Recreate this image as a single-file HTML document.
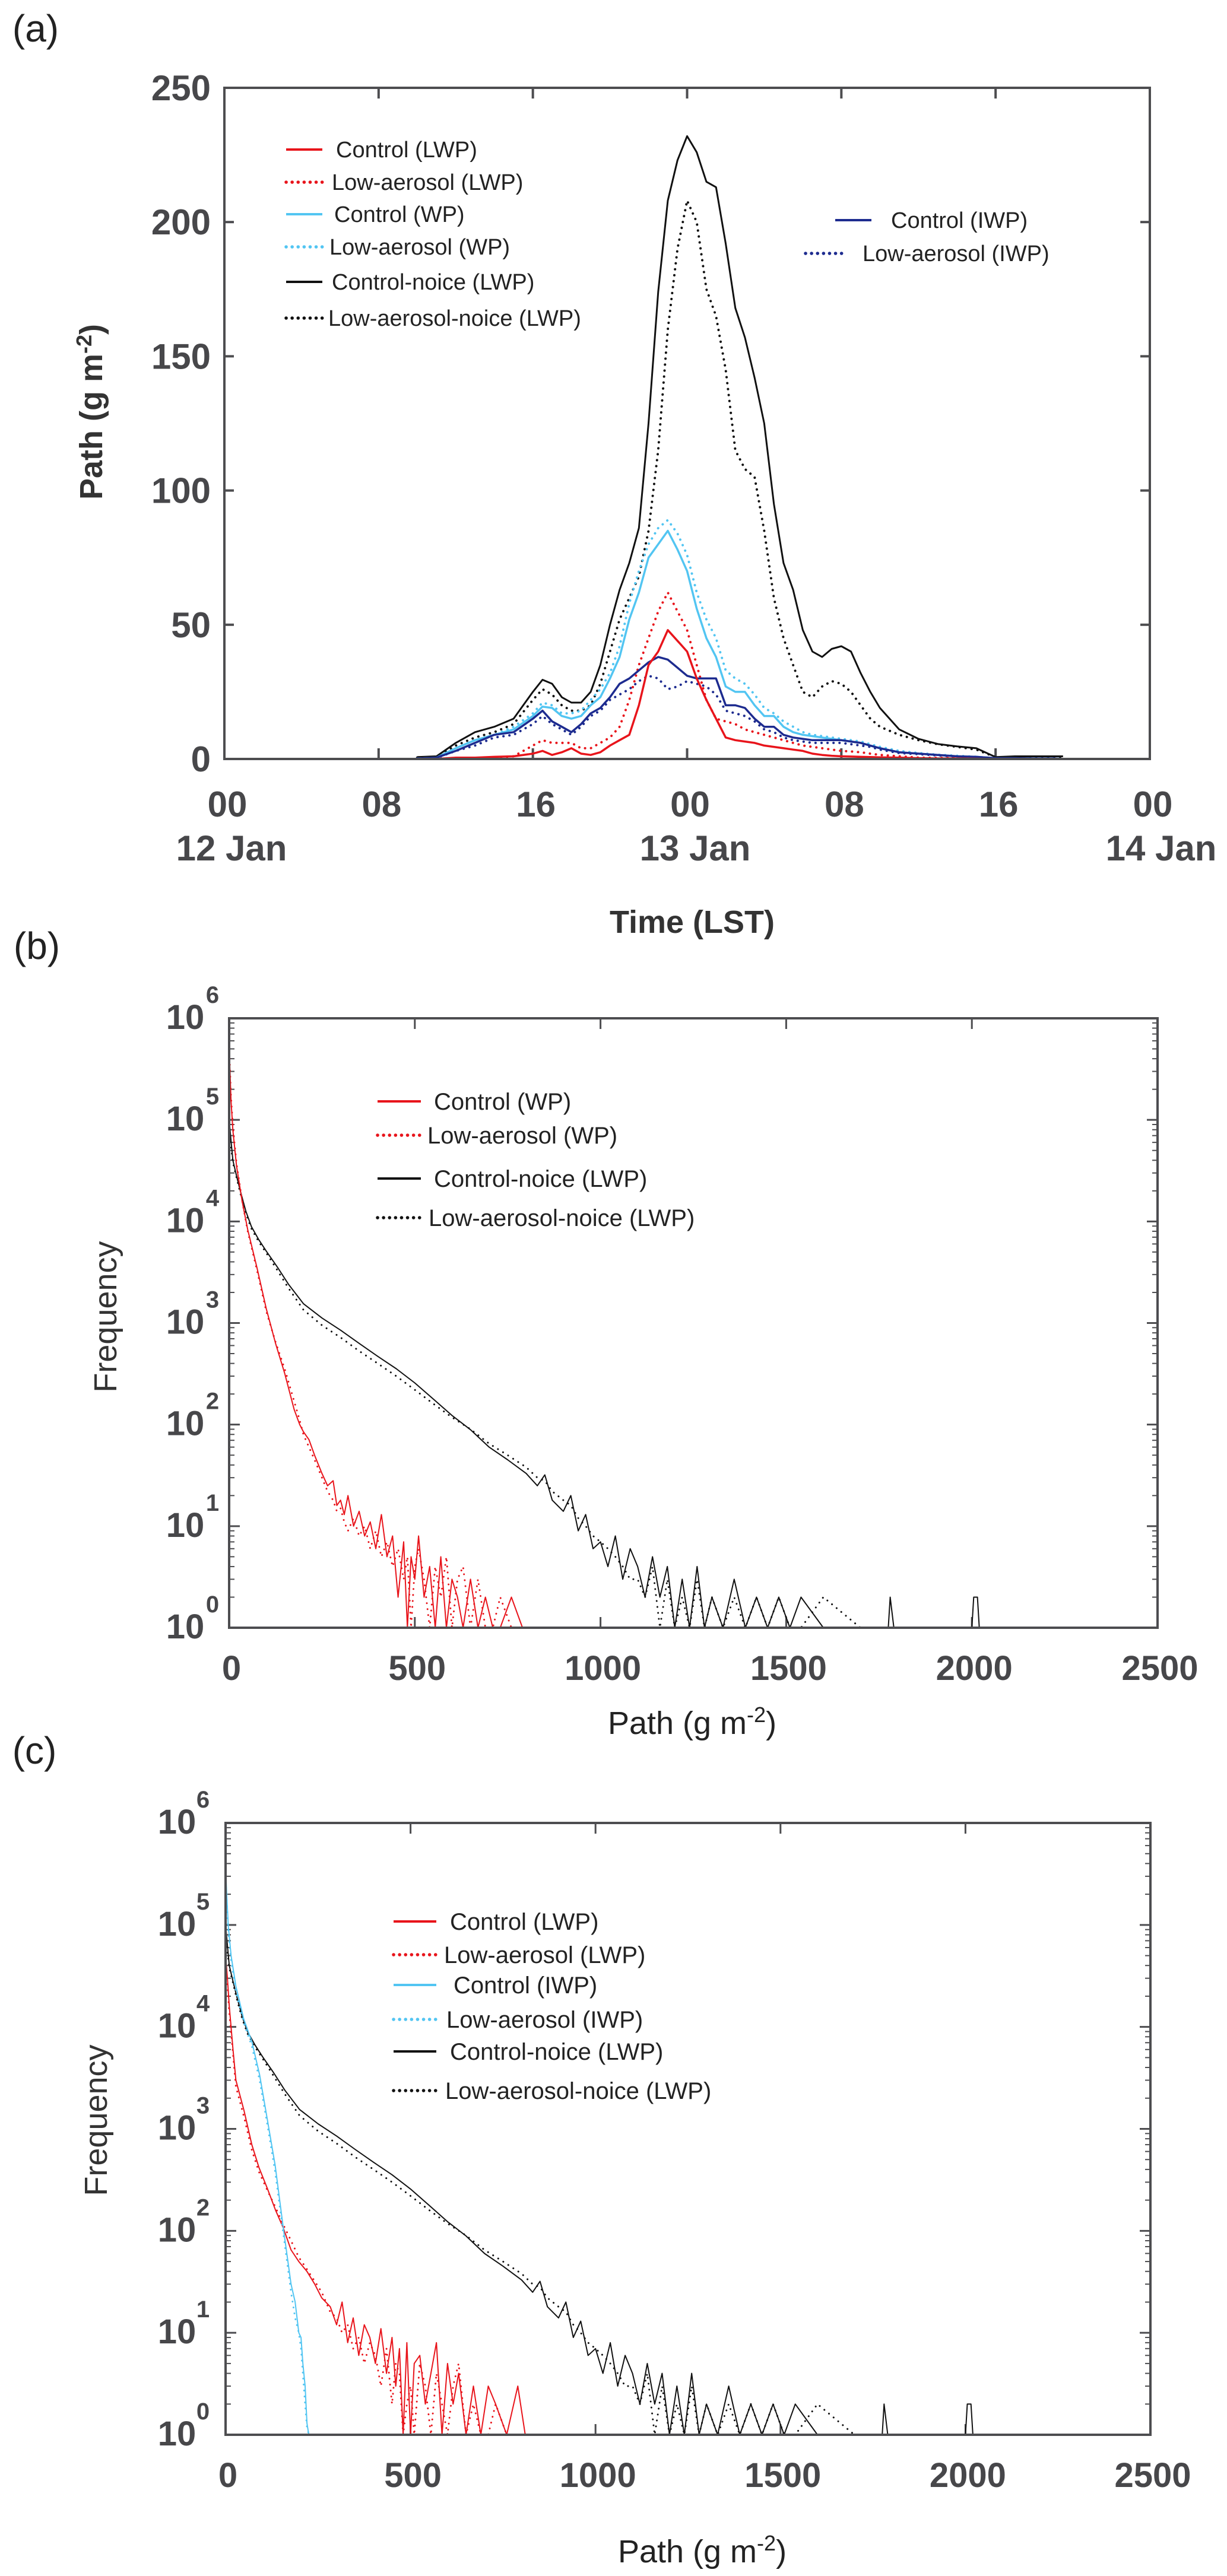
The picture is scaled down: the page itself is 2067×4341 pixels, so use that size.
<!DOCTYPE html>
<html><head><meta charset="utf-8"><style>
html,body{margin:0;padding:0;background:#fff}
svg{display:block}
text{font-family:"Liberation Sans",sans-serif}
</style></head><body>
<svg id="fig" xmlns="http://www.w3.org/2000/svg" width="2067" height="4341" viewBox="0 0 2067 4341">
<rect width="2067" height="4341" fill="#fff"/>
<text x="60" y="70" font-size="64" text-anchor="middle" fill="#222">(a)</text>
<text x="62" y="1616" font-size="64" text-anchor="middle" fill="#222">(b)</text>
<text x="58" y="2972" font-size="64" text-anchor="middle" fill="#222">(c)</text>
<g id="pa"></g>
<g id="pb"></g>
<g id="pc"></g>
</svg>
<script>
// ---------- Panel (a) data ----------
const aTimes=[10,11,12,13,14,15,16,16.5,17,17.5,18,18.5,19,19.5,20,20.5,21,21.5,22,22.5,23,23.5,24,24.5,25,25.5,26,26.5,27,27.5,28,28.5,29,29.5,30,30.5,31,31.5,32,32.5,33,33.5,34,35,36,37,38,39,40,41,42,43,43.5];
const aCtrlNoice=[0.7,1,6,10,12,15,25,29.5,28,23,21,21,25,35,50,63,73,86,125,174,208,223,232,226,215,213,192,168,157,142,125,95,73,63,48,40,38,41,42,40,32,25,19,11,7.5,5.6,4.7,4,0.7,1,1,1,1];
const aLowNoice=[0.5,0.8,5,8,10,13,22,26,24,20,18,18,20,28,40,52,60,68,85,115,160,190,208,200,175,165,145,115,108,105,85,60,45,35,25,23,27,29,28,25,20,15,12,9,7,5.5,4.5,3.5,0.7,0.5,0.5,0.5,0.5];
const aCtrlWP=[0.2,0.5,4,7,9,11,16,19.5,19,16,15,16,20,23,30,38,52,62,75,80,85,78,70,56,45,38,27,25,25,20,16,16,12,10,9,8.5,8,7.5,7,6.5,6,5,4,2.5,2,1.5,1,0.8,0.3,0.3,0.2,0.2,0];
const aLowWP=[0.2,0.5,4,7,9,12,17,21,20,17,17,18,22,26,32,42,58,70,80,86,89,84,76,62,52,45,33,30,28,24,19,17,14,12,10,9,8.5,8,7.5,7,6.5,5.5,4.5,3,2.2,1.6,1.2,0.8,0.3,0.3,0.2,0.2,0];
const aCtrlIWP=[0.2,0.5,3,6,9,10,15,18,14,12,10,13,17,19,23,28,30,33,36,38,37,34,31,30,30,30,20,20,19,15,12,12,9,8,7.5,7,7,7,7,6.5,6,5,4,2.5,2,1.5,1,0.8,0.3,0.3,0.2,0.2,0];
const aLowIWP=[0.2,0.4,3,5,8,9,13,16,13,11,9,12,16,18,22,24,26,29,31,30,26,27,29,28,27,24,18,17,16,14,11,10,8,7,6.5,6,6,6,6,5.5,5,4.5,3.5,2.2,1.8,1.3,0.9,0.7,0.3,0.3,0.2,0.2,0];
const aCtrlLWP=[0,0,0.5,0.5,0.8,1,2,3,1.5,2.5,4,2,1.5,2.5,5,7,9,20,35,40,48,44,40,30,22,15,8,7,6.5,6,5,4.5,4,3.5,3,2,1.5,1.2,1,0.9,0.8,0.7,0.6,0.5,0.3,0.2,0.2,0.1,0,0,0,0,0];
const aLowLWP=[0,0,0.3,0.4,0.5,1,5,7,6,6,6,4,4,6,8,12,22,35,45,55,62,55,48,35,22,15,14,13,11,10,9,8,7,6,5,4.5,4,3.5,3,2.8,2.5,2,1.5,1,0.5,0.4,0.3,0.2,0.1,0,0,0,0];
const aYTicks=[0,50,100,150,200,250];
const aXTickHours=[0,8,16,24,32,40,48];
const aXTickLabels=["00","08","16","00","08","16","00"];

// ---------- Panel (b) data ----------
const bRedX=[0,5,10,20,35,50,75,100,125,150,175,190,200,215,230,250,265,280,290,300,310,320,335,350,365,380,395,410,425,440,455,470,480,490,500,510,525,540,555,570,585,600,615,630,650,670,690,710,730,760,790,810];
const bCtrlWP=[525000,158000,79000,35000,15800,8300,3500,1380,630,316,141,100,85,71,50,33,25,28,16,18,13,20,10,14,8,11,6,13,5,8,2,7,1,5,3,8,2,4,1,5,1,3,2,1,3,1,2,1,1,2,1,1];
const bLowWP=[525000,170000,85000,37000,16000,8000,3300,1300,650,350,170,110,80,60,45,30,22,18,14,15,11,9,12,8,10,6,9,5,7,4,6,3,5,1,4,6,3,1,4,2,5,1,3,4,1,3,1,1,2,1,1,1];
const bBlackX=[0,5,10,20,30,45,60,80,100,130,160,200,250,300,350,400,450,500,550,600,650,700,750,800,830,850,870,900,920,940,960,980,1000,1020,1040,1060,1080,1100,1120,1140,1160,1180,1200,1220,1240,1260,1280,1300,1330,1360,1390,1420,1450,1480,1510,1540,1600,1700,1775,1780,1790,2000,2005,2015,2020,2500];
const bCtrlNoice=[100000,63000,40000,28000,20000,12600,8900,6600,5100,3550,2400,1550,1120,850,630,470,355,257,178,123,89,60,45,33,25,32,18,14,20,9,13,6,7,4,8,3,6,4,2,5,2,4,1,3,1,4,1,2,1,3,1,2,1,2,1,2,1,1,1,2,1,1,2,2,1,1];
const bLowNoice=[80000,55000,38000,27000,19000,12000,8500,6300,4900,3300,2200,1350,950,720,530,400,300,220,160,118,90,65,50,38,30,28,22,18,16,12,10,8,7,6,5,4,3,3,2,4,1,3,1,2,1,3,1,2,1,2,1,2,1,2,1,1,2,1,1,1,1,1,1,1,1,1];
const logExps=[0,1,2,3,4,5,6];
const pathTicks=[0,500,1000,1500,2000,2500];

// ---------- Panel (c) data ----------
const cRedX=[0,5,10,20,28,50,71,90,113,135,156,177,198,220,241,260,283,300,315,330,345,360,375,390,405,420,435,450,460,470,480,490,500,510,525,540,555,570,585,600,615,630,650,670,690,710,730,760,790,810];
const cCtrlLWP=[50000,30000,16000,6000,3000,1500,700,420,260,160,107,65,50,40,30,22,18,12,20,8,14,6,12,9,5,11,4,9,3,7,1,8,1,5,6,2,4,8,1,5,2,4,1,3,1,3,2,1,3,1];
const cLowLWP=[45000,26000,14000,5500,2600,1300,620,380,250,170,115,80,55,42,32,25,16,14,10,12,7,9,5,8,6,3,7,2,5,4,1,2,3,1,5,3,1,4,2,1,3,5,1,2,1,1,2,1,1,1];
const cCyanX=[0,3,7,15,28,49,71,92,113,134,156,177,188,198,204,209,215,220,225];
const cCtrlIWP=[370000,200000,100000,50000,25000,12000,7200,3400,1230,440,107,30,20,10,9,5,3,1.3,1];
const cLowIWP=[300000,180000,90000,45000,22000,11000,6500,3000,1100,380,95,25,14,10,7,4,2,1.2,1];
const cBlackX=bBlackX.slice();
const cCtrlNoice=bCtrlNoice.slice();
const cLowNoice=bLowNoice.slice();

const NS="http://www.w3.org/2000/svg";
const RED="#e8141b", CYAN="#52c5f2", NAVY="#1d2b8f", BLK="#111111", AX="#4d4d50", LAB="#47474a";
function mk(tag,parent){const e=document.createElementNS(NS,tag);parent.appendChild(e);return e;}
function series(parent,xs,ys,fx,fy,color,dotted,w,name){
  const p=mk('path',parent);
  
  
  let d='';
  for(let i=0;i<xs.length&&i<ys.length;i++){d+=(i?'L':'M')+fx(xs[i]).toFixed(1)+' '+fy(ys[i]).toFixed(1);}
  p.setAttribute('d',d);p.setAttribute('fill','none');p.setAttribute('stroke',color);
  p.setAttribute('stroke-width',w);p.setAttribute('stroke-linejoin','round');
  if(dotted){p.setAttribute('stroke-dasharray','0.1 10');p.setAttribute('stroke-linecap','round');p.setAttribute('stroke-width',w+1.5);}
}
function txt(parent,x,y,s,size,opts,name){
  const t=mk('text',parent);
  
  
  t.setAttribute('x',x);t.setAttribute('y',y);t.setAttribute('font-size',size);
  t.setAttribute('fill',(opts&&opts.fill)||LAB);
  if(opts&&opts.bold)t.setAttribute('font-weight','bold');
  t.setAttribute('text-anchor',(opts&&opts.anchor)||'middle');
  if(opts&&opts.rot)t.setAttribute('transform','rotate(-90 '+x+' '+y+')');
  t.textContent=s;return t;
}
function ln(parent,x1,y1,x2,y2,color,w,name){
  const l=mk('line',parent);
  
  
  l.setAttribute('x1',x1);l.setAttribute('y1',y1);l.setAttribute('x2',x2);l.setAttribute('y2',y2);
  l.setAttribute('stroke',color);l.setAttribute('stroke-width',w);
  if(name.indexOf('dotted')>=0){l.setAttribute('stroke-dasharray','0.1 10');l.setAttribute('stroke-linecap','round');l.setAttribute('stroke-width',w+1.5);}
}
function box(parent,L,T,R,B,name){
  const r=mk('rect',parent);
  
  
  r.setAttribute('x',L);r.setAttribute('y',T);r.setAttribute('width',R-L);r.setAttribute('height',B-T);
  r.setAttribute('fill','none');r.setAttribute('stroke',AX);r.setAttribute('stroke-width',4);
}

// ---------- Panel (a) ----------
(function(){
  const g=document.getElementById('pa');
  const L=378,R=1937,T=148,B=1279;
  const fx=h=>L+(h/48)*(R-L), fy=v=>B-(v/250)*(B-T);
  aYTicks.forEach(v=>{ln(g,L,fy(v),L+16,fy(v),AX,4,'y-tick');ln(g,R-16,fy(v),R,fy(v),AX,4,'y-tick-right');
    txt(g,355,fy(v)+21,String(v),60,{bold:true,anchor:'end'},'y-tick-label');});
  aXTickHours.forEach((h,i)=>{ln(g,fx(h),B,fx(h),B-18,AX,4,'x-tick');ln(g,fx(h),T,fx(h),T+18,AX,4,'x-tick-top');
    txt(g,fx(h)+5,1376,aXTickLabels[i],60,{bold:true},'x-tick-label');});
  txt(g,390,1450,'12 Jan',60,{bold:true},'date-label-12jan');
  txt(g,1171,1450,'13 Jan',60,{bold:true},'date-label-13jan');
  txt(g,1956,1450,'14 Jan',60,{bold:true},'date-label-14jan');
  txt(g,1166,1572,'Time (LST)',54,{bold:true,fill:'#333'},'x-axis-title');
  const yt=txt(g,172,694,'Path (g m',54,{bold:true,rot:true,fill:'#333'},'y-axis-title');
  const ts=mk('tspan',yt);ts.setAttribute('dy','-18');ts.setAttribute('font-size','36');ts.textContent='-2';
  const ts2=mk('tspan',yt);ts2.setAttribute('dy','18');ts2.textContent=')';
  series(g,aTimes,aLowNoice,fx,fy,BLK,true,2.5,'series-low-aerosol-noice-lwp');
  series(g,aTimes,aLowWP,fx,fy,CYAN,true,2.5,'series-low-aerosol-wp');
  series(g,aTimes,aLowIWP,fx,fy,NAVY,true,2.5,'series-low-aerosol-iwp');
  series(g,aTimes,aLowLWP,fx,fy,RED,true,2.5,'series-low-aerosol-lwp');
  series(g,aTimes,aCtrlNoice,fx,fy,BLK,false,3,'series-control-noice-lwp');
  series(g,aTimes,aCtrlWP,fx,fy,CYAN,false,3.5,'series-control-wp');
  series(g,aTimes,aCtrlIWP,fx,fy,NAVY,false,3.5,'series-control-iwp');
  series(g,aTimes,aCtrlLWP,fx,fy,RED,false,3.5,'series-control-lwp');
  box(g,L,T,R,B,'plot-frame');
  const leg=[['Control (LWP)',RED,false,252,566],['Low-aerosol (LWP)',RED,true,307,559],['Control (WP)',CYAN,false,361,563],['Low-aerosol (WP)',CYAN,true,416,555],['Control-noice (LWP)',BLK,false,475,559],['Low-aerosol-noice (LWP)',BLK,true,536,553]];
  leg.forEach(e=>{ln(g,482,e[3],543,e[3],e[1],4,e[2]?'legend-line-dotted':'legend-line');
    txt(g,e[4],e[3]+13,e[0],38,{anchor:'start',fill:'#222'},'legend-entry');});
  ln(g,1407,371,1468,371,NAVY,4,'legend-line');txt(g,1501,384,'Control (IWP)',38,{anchor:'start',fill:'#222'},'legend-entry');
  ln(g,1357,427,1418,427,NAVY,4,'legend-line-dotted');txt(g,1453,440,'Low-aerosol (IWP)',38,{anchor:'start',fill:'#222'},'legend-entry');
})();

// ---------- Log panels ----------
function logPanel(g,L,T,R,B,labX,supX,frX,frY,titleY,titleX){
  const dec=(B-T)/6;
  const fx=v=>L+(v/2500)*(R-L), fy=f=>B-Math.log10(Math.max(f,1))*dec;
  logExps.forEach(e=>{const y=B-e*dec;
    ln(g,L,y,L+18,y,AX,3,'y-major-tick');ln(g,R-18,y,R,y,AX,3,'y-major-tick-right');
    txt(g,labX,y+18,'10',58,{bold:true},'y-tick-label');
    txt(g,supX,y-26,String(e),40,{bold:true},'y-tick-exponent');
    if(e<6){for(let m=2;m<10;m++){const ym=y-Math.log10(m)*dec;
      ln(g,L,ym,L+9,ym,AX,2,'y-minor-tick');ln(g,R-9,ym,R,ym,AX,2,'y-minor-tick-right');}}
  });
  pathTicks.forEach(v=>{ln(g,fx(v),B,fx(v),B-18,AX,3,'x-tick');ln(g,fx(v),T,fx(v),T+18,AX,3,'x-tick-top');
    txt(g,fx(v)+4,B+88,String(v),58,{bold:true},'x-tick-label');});
  txt(g,frX,frY,'Frequency',54,{rot:true,fill:'#333'},'y-axis-title');
  const t=txt(g,titleX,titleY,'Path  (g m',54,{fill:'#222'},'x-axis-title');
  const s=mk('tspan',t);s.setAttribute('dy','-20');s.setAttribute('font-size','36');s.textContent='-2';
  const s2=mk('tspan',t);s2.setAttribute('dy','20');s2.textContent=')';
  return {fx,fy};
}
(function(){
  const g=document.getElementById('pb');
  const L=386,T=1716,R=1950,B=2743;
  const s=logPanel(g,L,T,R,B,312,358,196,2219,2922,1166);
  series(g,bBlackX,bLowNoice,s.fx,s.fy,BLK,true,1.5,'series-low-aerosol-noice-lwp');
  series(g,bBlackX,bCtrlNoice,s.fx,s.fy,BLK,false,2,'series-control-noice-lwp');
  series(g,bRedX,bLowWP,s.fx,s.fy,RED,true,1.5,'series-low-aerosol-wp');
  series(g,bRedX,bCtrlWP,s.fx,s.fy,RED,false,2,'series-control-wp');
  box(g,L,T,R,B,'plot-frame');
  const leg=[['Control (WP)',RED,false,1856,731],['Low-aerosol (WP)',RED,true,1913,720],['Control-noice (LWP)',BLK,false,1986,731],['Low-aerosol-noice (LWP)',BLK,true,2052,722]];
  leg.forEach(e=>{ln(g,636,e[3],709,e[3],e[1],4,e[2]?'legend-line-dotted':'legend-line');
    txt(g,e[4],e[3]+14,e[0],40,{anchor:'start',fill:'#222'},'legend-entry');});
})();
(function(){
  const g=document.getElementById('pc');
  const L=380,T=3072,R=1938,B=4103;
  const s=logPanel(g,L,T,R,B,298,342,180,3573,4318,1183);
  series(g,cBlackX,cLowNoice,s.fx,s.fy,BLK,true,1.5,'series-low-aerosol-noice-lwp');
  series(g,cBlackX,cCtrlNoice,s.fx,s.fy,BLK,false,2,'series-control-noice-lwp');
  series(g,cRedX,cLowLWP,s.fx,s.fy,RED,true,1.5,'series-low-aerosol-lwp');
  series(g,cRedX,cCtrlLWP,s.fx,s.fy,RED,false,2,'series-control-lwp');
  series(g,cCyanX,cLowIWP,s.fx,s.fy,CYAN,true,1.5,'series-low-aerosol-iwp');
  series(g,cCyanX,cCtrlIWP,s.fx,s.fy,CYAN,false,2,'series-control-iwp');
  box(g,L,T,R,B,'plot-frame');
  const leg=[['Control (LWP)',RED,false,3238,758],['Low-aerosol (LWP)',RED,true,3294,748],['Control (IWP)',CYAN,false,3345,764],['Low-aerosol (IWP)',CYAN,true,3403,752],['Control-noice (LWP)',BLK,false,3457,758],['Low-aerosol-noice (LWP)',BLK,true,3523,750]];
  leg.forEach(e=>{ln(g,663,e[3],735,e[3],e[1],4,e[2]?'legend-line-dotted':'legend-line');
    txt(g,e[4],e[3]+14,e[0],40,{anchor:'start',fill:'#222'},'legend-entry');});
})();
</script>
</body></html>
